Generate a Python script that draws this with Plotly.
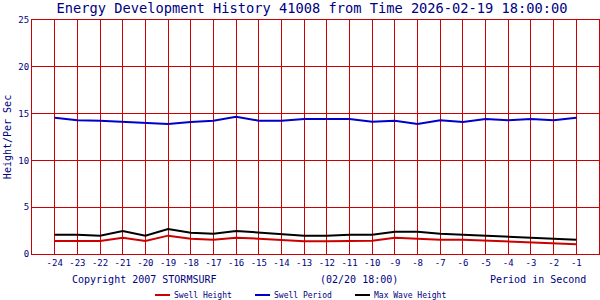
import plotly.graph_objects as go

hours = list(range(-24, 0))
swell_height = [1.39, 1.39, 1.39, 1.74, 1.39, 1.96, 1.64, 1.53, 1.74, 1.64, 1.50, 1.35,
                1.35, 1.42, 1.42, 1.74, 1.64, 1.53, 1.53, 1.42, 1.35, 1.25, 1.14, 1.03]
swell_period = [14.56, 14.30, 14.24, 14.14, 14.03, 13.90, 14.10, 14.24, 14.67, 14.24, 14.24, 14.42,
                14.42, 14.42, 14.14, 14.24, 13.90, 14.30, 14.10, 14.42, 14.30, 14.42, 14.30, 14.56]
max_wave = [2.06, 2.06, 1.96, 2.46, 1.96, 2.67, 2.28, 2.17, 2.46, 2.28, 2.17, 1.96,
            1.96, 2.06, 2.06, 2.38, 2.38, 2.17, 2.06, 1.96, 1.85, 1.74, 1.64, 1.53]
y_ticks = [0, 5, 10, 15, 20, 25]

NAVY = "#000080"
RED = "#cc0000"
BLUE = "#0000cc"
FONT = "DejaVu Sans Mono"

series = [("Swell Height", swell_height, RED),
          ("Swell Period", swell_period, BLUE),
          ("Max Wave Height", max_wave, "#000000")]

fig = go.Figure()
for name, vals, col in series:
    fig.add_trace(go.Scatter(x=hours, y=vals, mode="lines", name=name,
                             line=dict(color=col, width=2)))

L, R, T, B = 32, 1, 20, 46
PW = 600 - L - R
PH = 300 - T - B

fig.update_layout(
    width=600, height=300,
    margin=dict(l=L, r=R, t=T, b=B, autoexpand=False),
    paper_bgcolor="white", plot_bgcolor="white",
    font=dict(family=FONT, color=NAVY, size=9),
    title=dict(text="Energy Development History 41008 from Time 2026-02-19 18:00:00",
               x=312 / 600, xanchor="center", y=1 - 8.5 / 300, yanchor="middle",
               font=dict(family=FONT, size=13.7, color=NAVY)),
    showlegend=False,
)
fig.update_xaxes(range=[-25, 0], tickmode="array", tickvals=hours,
                 ticktext=[str(h) for h in hours],
                 showgrid=True, gridcolor=RED, gridwidth=1,
                 showline=True, linecolor=RED, linewidth=1, mirror=True,
                 zeroline=False, ticks="", tickfont=dict(family=FONT, size=9, color=NAVY))
fig.update_yaxes(range=[0, 25], tickmode="array", tickvals=y_ticks,
                 showgrid=True, gridcolor=RED, gridwidth=1,
                 showline=True, linecolor=RED, linewidth=1, mirror=True,
                 zeroline=False, ticks="", tickfont=dict(family=FONT, size=9, color=NAVY),
                 title=dict(text="Height/Per Sec", font=dict(family=FONT, size=10, color=NAVY),
                            standoff=4))


def px(x):
    return (x - L) / PW


def py(y):
    return (300 - B - y) / PH


anns = [
    dict(text="Copyright 2007 STORMSURF", x=70, xanchor="left"),
    dict(text="(02/20 18:00)", x=318, xanchor="left"),
    dict(text="Period in Second", x=588, xanchor="right"),
]
for a in anns:
    fig.add_annotation(text=a["text"], xref="paper", yref="paper",
                       x=px(a["x"]), xanchor=a["xanchor"],
                       y=py(279), yanchor="middle", showarrow=False,
                       font=dict(family=FONT, size=10, color=NAVY))

# manual legend
for i, (name, vals, col) in enumerate(series):
    x0 = 155 + 100 * i
    fig.add_shape(type="line", xref="paper", yref="paper",
                  x0=px(x0), x1=px(x0 + 15), y0=py(295), y1=py(295),
                  line=dict(color=col, width=2))
    fig.add_annotation(text=name, xref="paper", yref="paper",
                       x=px(x0 + 17), xanchor="left", y=py(295), yanchor="middle",
                       showarrow=False, font=dict(family=FONT, size=8, color=NAVY))

fig.write_html("out.html")
